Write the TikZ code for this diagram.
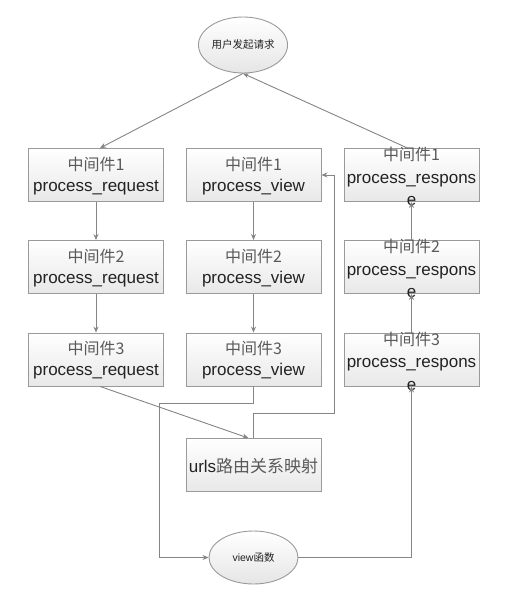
\documentclass[tikz,border=0pt]{standalone}
\usepackage{fontspec}
\setmainfont{Liberation Sans}
\newfontfamily\cjk{Noto Sans CJK SC}
\usetikzlibrary{shapes.geometric,arrows.meta}
\definecolor{linec}{HTML}{858585}
\definecolor{borderc}{HTML}{9A9A9A}
\definecolor{cjkc}{HTML}{5A5A5A}
\definecolor{txtc}{HTML}{222222}
\tikzset{
  box/.style={rectangle,draw=borderc,line width=0.9pt,top color=white,bottom color=black!9,
    minimum width=135pt,minimum height=53pt,inner sep=0pt},
  oval/.style={ellipse,draw=borderc,line width=0.9pt,top color=white,bottom color=black!10,
    inner sep=0pt,font=\fontsize{10.5}{12}\selectfont\cjk,text=txtc},
  txt/.style={align=center,inner sep=0pt,text=txtc,font=\fontsize{17}{21}\selectfont},
  txtr/.style={align=center,inner sep=0pt,text=txtc,font=\fontsize{17}{22.5}\selectfont},
  conn/.style={draw=linec,line width=0.9pt},
  arr/.style={conn,-{Stealth[length=6pt,width=5pt]}}
}
\newcommand{\zj}[1]{{\cjk\color{cjkc}\fontsize{16}{21}\selectfont 中间件#1}}
\begin{document}
\begin{tikzpicture}[x=1pt,y=-1pt]
\useasboundingbox (0,0) rectangle (511,597);
% nodes
\node[oval,minimum width=88pt,minimum height=56pt] (top) at (243,45) {用户发起请求};
\node[box] (q1) at (96,175) {};
\node[box] (q2) at (96,267) {};
\node[box] (q3) at (96,359.5) {};
\node[box] (v1) at (253.5,175) {};
\node[box] (v2) at (253.5,267) {};
\node[box] (v3) at (253.5,359.5) {};
\node[box] (r1) at (411.5,175) {};
\node[box] (r2) at (411.5,267) {};
\node[box] (r3) at (411.5,359.5) {};
\node[box] (urls) at (253.5,465) {};
\node[oval,minimum width=89pt,minimum height=53pt] (vf) at (253.5,557.5) {{\fontspec{Liberation Sans}view}函数};
% texts
\node[txt] (q1t) at (96,176) {\zj{1}\\process\_request};
\node[txt] (q2t) at (96,268) {\zj{2}\\process\_request};
\node[txt] (q3t) at (96,360.5) {\zj{3}\\process\_request};
\node[txt] (v1t) at (253.5,176) {\zj{1}\\process\_view};
\node[txt] (v2t) at (253.5,268) {\zj{2}\\process\_view};
\node[txt] (v3t) at (253.5,360.5) {\zj{3}\\process\_view};
\node[txtr] (r1t) at (411.5,176.5) {\zj{1}\\process\_respons\\e};
\node[txtr] (r2t) at (411.5,268.5) {\zj{2}\\process\_respons\\e};
\node[txtr] (r3t) at (411.5,361) {\zj{3}\\process\_respons\\e};
\node[txt] (urlst) at (253.5,466) {urls{\cjk\color{cjkc}路由关系映射}};
% helper coordinates
\coordinate (k1) at (159,403);
\coordinate (k2) at (334,413);
% connectors
\draw[arr] (top.south) -- ([xshift=4pt]q1.north);
\draw[arr] ([xshift=-4pt]r1.north) -- (top.south);
\draw[arr] (q1.south) -- (q2.north);
\draw[arr] (q2.south) -- (q3.north);
\draw[arr] (v1.south) -- (v2.north);
\draw[arr] (v2.south) -- (v3.north);
\draw[arr] (r3.north) -- (r2.south);
\draw[arr] (r2.north) -- (r1.south);
\draw[arr] ([xshift=4pt]q3.south) -- ([xshift=-5pt]urls.north);
\draw[arr] (v3.south) |- (k1) |- (vf.west);
\draw[arr] (urls.north) |- (k2) |- (v1.east);
\draw[arr] (vf.east) -| (r3.south);
\end{tikzpicture}
\end{document}
